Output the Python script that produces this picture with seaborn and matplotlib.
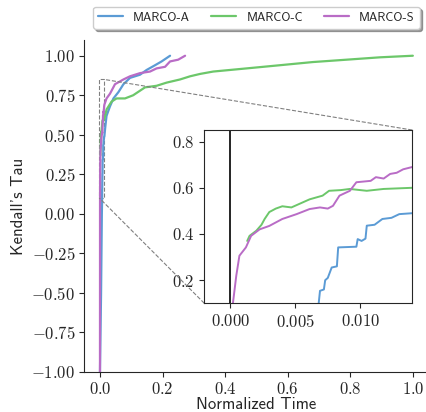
import pandas as pd
import matplotlib.pyplot as plt
import numpy as np
import seaborn as sns
from matplotlib.ticker import FuncFormatter, FixedLocator
from mpl_toolkits.axes_grid1.inset_locator import mark_inset

sns.set_style('ticks')
plt.rcParams['font.family'] = ['cmss10', 'DejaVu Sans']
plt.rcParams['mathtext.fontset'] = 'cm'
plt.rcParams['axes.unicode_minus'] = False

# values
marco_a_x = [0.0, 0.0035, 0.005, 0.006, 0.0068, 0.0069, 0.0072, 0.0073, 0.0075, 0.0078, 0.0082,
             0.0083, 0.0097, 0.0098, 0.0101, 0.0104, 0.0105, 0.0111, 0.0117, 0.0124, 0.0130,
             0.0140, 0.017, 0.021, 0.032, 0.043, 0.059, 0.075, 0.096, 0.128, 0.149, 0.176,
             0.197, 0.224]
marco_a_y = [-1.0, -0.5, -0.2, 0.0, 0.10, 0.154, 0.16, 0.20, 0.21, 0.255, 0.26,
             0.342, 0.345, 0.378, 0.37, 0.38, 0.436, 0.44, 0.465, 0.47, 0.486,
             0.49, 0.55, 0.62, 0.68, 0.73, 0.77, 0.82, 0.86, 0.88, 0.91, 0.94,
             0.964, 1.0]

marco_c_x = [0.0013, 0.00148, 0.002, 0.0024, 0.00264, 0.003, 0.0035, 0.004, 0.0047, 0.0053,
             0.0061, 0.0071, 0.0076, 0.0085, 0.0092, 0.0100, 0.0105, 0.0118, 0.014, 0.021,
             0.037, 0.053, 0.08, 0.106, 0.144, 0.181, 0.213, 0.256, 0.288, 0.32, 0.362,
             0.469, 0.575, 0.68, 0.788, 0.895, 1.0]
marco_c_y = [0.37, 0.392, 0.414, 0.44, 0.465, 0.495, 0.51, 0.52, 0.515, 0.53,
             0.55, 0.566, 0.587, 0.59, 0.595, 0.59, 0.587, 0.595, 0.60, 0.66,
             0.71, 0.73, 0.73, 0.75, 0.80, 0.81, 0.83, 0.85, 0.87, 0.885, 0.90,
             0.92, 0.94, 0.96, 0.975, 0.99, 1.0]

marco_s_x = [0.0, 0.0001, 0.00015, 0.0002, 0.00046, 0.0007, 0.0012, 0.0016, 0.00225, 0.003,
             0.004, 0.0051, 0.0061, 0.0069, 0.0075, 0.0079, 0.0084, 0.0092, 0.0097, 0.0108,
             0.0112, 0.0118, 0.0123, 0.0128, 0.0133, 0.014, 0.021, 0.032, 0.048, 0.075,
             0.096, 0.128, 0.16, 0.181, 0.208, 0.224, 0.25, 0.272]
marco_s_y = [-1.0, -0.5, 0.0, 0.10, 0.22, 0.306, 0.342, 0.392, 0.42, 0.435,
             0.465, 0.486, 0.508, 0.515, 0.51, 0.522, 0.566, 0.587, 0.624, 0.63,
             0.646, 0.64, 0.66, 0.665, 0.68, 0.69, 0.73, 0.76, 0.82, 0.85,
             0.87, 0.89, 0.90, 0.92, 0.93, 0.964, 0.975, 1.0]

names = ['MARCO-A', 'MARCO-C', 'MARCO-S']
colors = ['#5b9bd5', '#6cc76a', '#b96cc6']

df = pd.concat([
    pd.DataFrame({'t': marco_a_x, 'tau': marco_a_y, 'method': names[0]}),
    pd.DataFrame({'t': marco_c_x, 'tau': marco_c_y, 'method': names[1]}),
    pd.DataFrame({'t': marco_s_x, 'tau': marco_s_y, 'method': names[2]}),
], ignore_index=True)

fig = plt.figure(figsize=(4.27, 4.12), dpi=100)
ax = fig.add_axes([0.1975, 0.0971, 0.806, 0.806])
sns.lineplot(data=df, x='t', y='tau', hue='method', palette=colors, estimator=None,
             sort=False, lw=1.6, ax=ax)
ax.set_xlim(-0.05, 1.05)
ax.set_ylim(-1.0, 1.1)
ax.xaxis.set_major_locator(FixedLocator([0, 0.2, 0.4, 0.6, 0.8, 1.0]))
ax.yaxis.set_major_locator(FixedLocator(np.arange(-1.0, 1.01, 0.25)))
ax.xaxis.set_major_formatter(FuncFormatter(lambda v, p: f'${v:.1f}$'))
ax.yaxis.set_major_formatter(FuncFormatter(lambda v, p: f'${v:.2f}$'))
ax.tick_params(labelsize=12, pad=3)
ax.set_xlabel('Normalized Time', fontsize=12, labelpad=0)
ax.set_ylabel("Kendall's Tau", fontsize=12)
sns.despine(ax=ax)
ax.legend(loc='lower center', bbox_to_anchor=(0.5, 1.015), ncol=3, fontsize=9,
          shadow=True, fancybox=True, framealpha=1, borderpad=0.4, columnspacing=1.7)

axins = fig.add_axes([0.4785, 0.2638, 0.487, 0.4206])
sns.lineplot(data=df, x='t', y='tau', hue='method', palette=colors, estimator=None,
             sort=False, lw=1.4, ax=axins, legend=False)
axins.axvline(0, color='k', lw=1.2)
axins.set_xlim(-0.002, 0.014)
axins.set_ylim(0.1, 0.85)
axins.xaxis.set_major_locator(FixedLocator([0.0, 0.005, 0.010]))
axins.yaxis.set_major_locator(FixedLocator([0.2, 0.4, 0.6, 0.8]))
axins.xaxis.set_major_formatter(FuncFormatter(lambda v, p: f'${v:.3f}$'))
axins.yaxis.set_major_formatter(FuncFormatter(lambda v, p: f'${v:.1f}$'))
axins.tick_params(labelsize=12)
axins.set_xlabel('')
axins.set_ylabel('')
mark_inset(ax, axins, loc1=1, loc2=3, fc='none', ec='0.5', ls='--', lw=0.8)

fig.savefig('out.png', dpi=100)
